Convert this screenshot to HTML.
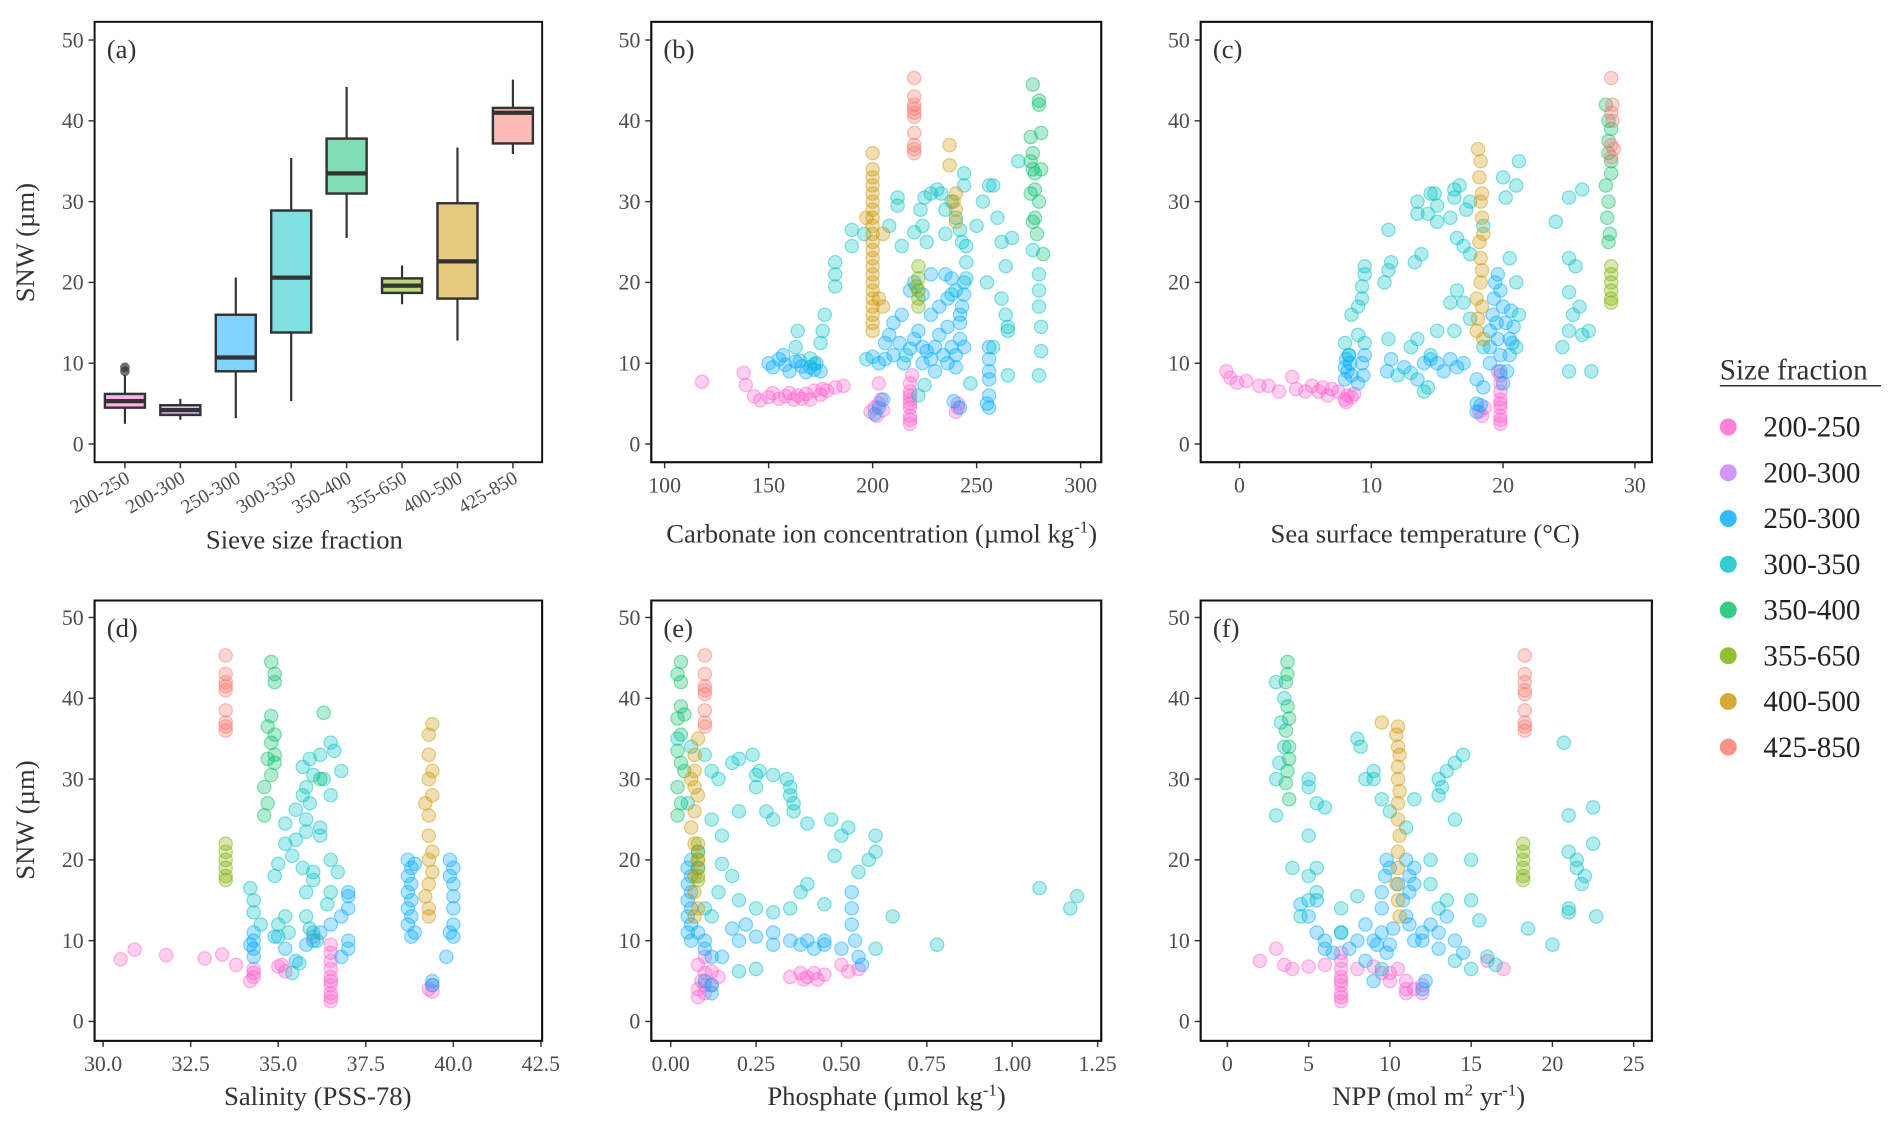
<!DOCTYPE html>
<html><head><meta charset="utf-8"><style>
html,body{margin:0;padding:0;background:#fff;}
svg, svg text{font-family:"Liberation Serif","Times New Roman","DejaVu Serif",serif;}
</style></head><body>
<svg id="fig" width="1892" height="1127" viewBox="0 0 1560 929" preserveAspectRatio="none" font-family="'Liberation Serif', 'Times New Roman', 'DejaVu Serif', serif" xmlns="http://www.w3.org/2000/svg"></svg>
<script>
// ---------- data ----------
const seriesNames = ["200-250","200-300","250-300","300-350","350-400","355-650","400-500","425-850"];
const seriesColors = ["#FF61CC","#C77CFF","#00A9FF","#00BFC4","#00BE67","#7CAE00","#CD9600","#F8766D"];
const yTicks = [0,10,20,30,40,50];
// panel a boxplot
const boxCats = ["200-250","200-300","250-300","300-350","350-400","355-650","400-500","425-850"];
const boxMin = [2.5,3.0,3.2,5.3,25.5,17.3,12.8,35.9];
const boxQ1 = [4.5,3.6,9.0,13.8,31.0,18.7,18.0,37.2];
const boxMed = [5.3,4.2,10.7,20.6,33.5,19.6,22.6,41.0];
const boxQ3 = [6.2,4.8,16.0,28.9,37.8,20.5,29.8,41.6];
const boxMax = [8.5,5.6,20.6,35.4,44.2,22.1,36.7,45.1];
const boxOutliers = [[0,9.0],[0,9.5]];
// panel b carbonate
const carbTicks = [100,150,200,250,300];
const carb_s1 = [[118,7.7],[138,8.8],[139,7.3],[143,5.9],[146,5.4],[150,5.8],[152,6.3],[155,5.6],[158,5.9],[160,6.3],[162,5.5],[164,6],[166,5.6],[168,6.2],[170,5.5],[172,6.6],[175,6.1],[178,6.6],[182,7],[186,7.2],[176,6.8],[199,4],[201,4.5],[203,5],[205,4.2],[202,3.5],[204,5.5],[203,7.5],[218,2.5],[218,3.5],[218,4.5],[218,5.5],[218,6.5],[218,7.5],[219,8.5],[218,3],[218,5],[218,6],[241,4.5],[241,5],[240,4]];
const carb_s3 = [[150,10],[152,9.5],[155,10.5],[158,9.8],[160,9],[163,10.2],[166,9.6],[168,8.9],[170,9.5],[173,10],[175,9],[172,9.2],[165,10.3],[157,11],[200,10.8],[203,10],[206,10.5],[210,11],[213,12.5],[215,10],[218,11.8],[220,13],[222,14],[224,12],[226,11.5],[228,10.5],[230,12],[232,13.5],[234,11],[236,14.5],[238,12],[240,11],[242,13],[244,12],[242,15],[243,17],[244,18.5],[244,20],[242,16],[240,19],[236,18],[232,17],[228,16],[224,18.5],[220,20],[218,19],[214,16],[210,15],[208,13.5],[206,12.5],[224,10],[230,9],[236,10],[240,9.5],[256,12],[256,10.5],[256,9],[256,8],[255,5],[256,6],[256,4.5],[201,3.7],[203,4.5],[205,5.5],[239,5.3],[242,4.5],[235,21],[238,20.5],[228,21]];
const carb_s4 = [[177,16],[176,14],[175,12.5],[182,19.5],[164,14],[163,12],[170,10.6],[172,9.9],[197,10.5],[182,22.5],[182,21],[190,24.5],[190,26.5],[196,26],[208,27],[212,30.5],[212,29.5],[214,24.5],[220,26.2],[223,29],[225,30.5],[228,31],[231,31.5],[233,31],[235,29],[238,30],[240,28],[243,25],[244,32],[244,33.5],[224,27],[226,25],[235,26],[238,18.5],[245,20.5],[245,22.5],[245,24.5],[250,27],[253,30],[256,32],[258,32],[260,28],[262,25],[264,22],[262,18],[264,16],[265,14.5],[265,14],[270,35],[277,24],[280,21],[280,19],[280,17],[281,14.5],[281,11.5],[280,8.5],[265,8.5],[247,7.5],[222,6],[225,7.3],[216,11],[242,26.5],[255,20],[258,12],[267,25.5]];
const carb_s5 = [[277,44.5],[280,42],[280,42.5],[277,36],[277,34],[278,33.5],[281,34],[276,31],[278,31.5],[280,30],[278,28],[277,27.5],[279,26],[282,23.5],[276,38],[281,38.5],[276,35]];
const carb_s6 = [[222,22],[222,20.5],[222,19],[222,18],[222,17],[221,19.5]];
const carb_s7 = [[200,36],[200,34],[200,33],[200,32],[200,31],[200,30],[200,29],[200,28],[200,27],[200,26],[200,25],[200,24],[200,23],[200,22],[200,21],[200,20],[200,19],[200,18],[200,17],[200,16],[200,15],[200,14],[197,28],[205,26],[237,37],[237,34.5],[240,31],[240,29],[240,27.5],[239,30],[203,18],[205,17]];
const carb_s8 = [[220,45.3],[220,43],[220,42],[220,41.5],[220,41],[220,40.5],[220,38.5],[220,37],[220,36.5],[220,36]];
// panel c SST
const sstTicks = [0,10,20,30];
const sst_s1 = [[-1,9],[-0.7,8.2],[-0.2,7.6],[0.5,7.8],[1.5,7.2],[2.2,7.2],[3,6.5],[4,8.3],[4.3,6.8],[5,6.5],[5.5,7.2],[6,6.5],[6.3,7],[6.7,6],[7,6.8],[7.5,6.5],[8,5.5],[8.2,6],[8.5,5.8],[8.7,6.2],[8.1,5.2],[18.2,4],[18.4,3.5],[18.6,4.5],[19.8,2.5],[19.8,3.5],[19.8,4.5],[19.8,5.5],[19.8,6.5],[19.8,7.5],[19.8,8.5],[19.8,3],[19.8,5],[19.6,9]];
const sst_s3 = [[8,8],[8.2,9],[8.4,10],[8.3,11],[8,9.5],[8.1,10.5],[8.5,8.5],[9,7.5],[9.3,10],[9.5,11],[9.4,8.5],[11.2,9],[11.5,10.5],[12.5,9.5],[13.5,8],[14,10],[14.5,10.5],[15,10],[15.5,9],[16,10.5],[16.5,9.5],[17,10],[18,8],[18.5,7],[19,10],[19,12],[19,14],[19.2,16],[19.3,18],[19.4,20],[19.6,21],[19.8,19],[20,17],[20.2,15],[20.5,13],[20.5,11],[20.3,9],[20.7,12.5],[20.8,14.5],[20.6,16.5],[19.6,13],[19.5,15],[19.8,11],[19.8,9],[20,7.5],[18,4],[18,5],[18.3,4.8]];
const sst_s4 = [[8,12.5],[8.3,11],[9,13.5],[9.5,12.5],[8.5,16],[9,17],[9.3,18],[9.3,19.5],[9.5,22],[9.5,21],[11,20],[11.3,21.5],[11.5,22.5],[11.3,26.5],[13.3,22.5],[13.8,23.5],[13.5,28.5],[13.5,30],[14.3,28.5],[14.5,31],[14.8,31],[15,29.5],[15,27.5],[16.3,31.5],[16.3,30.5],[16,28],[16.5,25.5],[17,24.5],[17.5,23.5],[17.2,29],[18.5,27],[20,33],[20.2,30.5],[21,32],[21.2,35],[21,20],[20.5,23],[16.5,19],[17,17.5],[16,17.5],[16.3,14],[15,14],[14.5,11],[13.5,13],[13,12],[11.3,13],[12,8.5],[13,8.8],[14,6.5],[14.3,7],[17.5,15.5],[18.5,12],[21,12],[21.2,16],[24.5,12],[25,18.8],[25,14],[25.3,16],[26,13.5],[26.5,14],[25.8,17],[25,23],[25.5,22],[24,27.5],[25,30.5],[26,31.5],[25,9],[26.7,9],[17.5,30],[16.7,32]];
const sst_s5 = [[27.8,42],[28,40],[28.2,39],[28,36],[28.2,35],[27.8,32],[28,30],[27.9,28],[28.1,26],[28,25],[28.2,33.5],[28,37.5]];
const sst_s6 = [[28.2,22],[28.2,21],[28.2,20],[28.2,19],[28.2,18],[28.2,17.5]];
const sst_s7 = [[18.1,36.5],[18.3,35],[18.2,33],[18.4,31],[18.3,30],[18.4,28],[18.5,26],[18.2,25],[18.3,23],[18.4,21.5],[18.3,20],[18,18],[18.4,17],[18.1,15.5],[18,14],[18.5,13]];
const sst_s8 = [[28.2,45.3],[28.3,42],[28.2,41],[28.3,40],[28.2,37],[28.4,36.5],[28.2,35.5]];
// panel d salinity
const salTicks = ["30.0","32.5","35.0","37.5","40.0","42.5"];
const sal_s1 = [[30.5,7.7],[30.9,8.9],[31.8,8.2],[32.9,7.8],[33.4,8.3],[33.8,7],[34.3,6],[34.3,5.5],[34.2,5],[34.3,6.5],[35.1,7],[35.2,6.2],[35,6.8],[36.5,2.5],[36.5,3.5],[36.5,4.5],[36.5,5.5],[36.5,6.5],[36.5,7.5],[36.5,8.5],[36.5,3],[36.5,5],[36.5,9.5],[39.3,4],[39.4,3.7],[39.4,4.5],[36,10.5]];
const sal_s3 = [[34.3,9],[34.3,10],[34.3,11],[34.3,8],[34.2,9.5],[34.9,10.5],[35.2,9],[35.8,9.5],[36,10],[36.2,11],[36.5,12],[36.8,13],[37,14],[37,15.5],[37,16],[37,10],[37,9],[36.8,8],[35.5,7.5],[38.7,20],[38.8,19],[38.7,18],[38.8,17],[38.7,16],[38.8,15],[38.7,14],[38.8,13],[38.7,12],[38.9,11],[38.8,10.5],[38.9,19.5],[39.9,20],[40,19],[39.9,18],[40,17],[40,15.5],[40,14],[40,12],[39.9,11],[40,10.5],[39.8,8],[39.4,5],[39.4,4.5]];
const sal_s4 = [[34.2,16.5],[34.3,15],[34.3,13.5],[34.5,12],[35.2,13],[35.3,11],[35,12],[35,10.5],[34.9,18],[35,19.5],[35.2,22],[35.5,22.5],[35.4,20.5],[35.8,23.5],[35.8,25],[35.9,27],[35.7,28],[35.8,29],[36,30.5],[35.7,31.5],[35.9,32.5],[36.2,33],[36.5,34.5],[36.6,33.5],[36.8,31],[36.5,28],[36.3,30],[36.2,24],[36.2,23],[35.5,26.2],[35.2,24.5],[36,18.5],[36,17.5],[35.7,19],[35.8,16],[36.5,16],[36.5,20],[36.7,18.5],[36.4,14.5],[35.8,13],[35.9,11.5],[36.1,10],[35.6,7.2],[35.4,6],[36,11]];
const sal_s5 = [[34.8,44.5],[34.9,43],[34.9,42],[34.8,37.8],[34.7,36.5],[34.9,35.5],[34.8,34.5],[34.9,33],[34.7,32.5],[34.9,32],[34.6,29],[34.7,27],[34.6,25.5],[36.3,38.2],[36.2,30],[34.8,30.5]];
const sal_s6 = [[33.5,22],[33.5,21],[33.5,20],[33.5,19],[33.5,18],[33.5,17.5]];
const sal_s7 = [[39.4,36.8],[39.3,35.5],[39.3,33],[39.4,31],[39.3,30],[39.4,28],[39.2,27],[39.3,25.5],[39.3,23],[39.4,21],[39.3,20],[39.4,18.5],[39.3,17],[39.2,15.5],[39.3,14],[39.3,13]];
const sal_s8 = [[33.5,45.3],[33.5,43],[33.5,42],[33.5,41.5],[33.5,41],[33.5,38.5],[33.5,37],[33.5,36.5],[33.5,36]];
// panel e phosphate
const phosTicks = ["0.00","0.25","0.50","0.75","1.00","1.25"];
const phos_s1 = [[0.08,3],[0.08,4],[0.09,5],[0.1,6],[0.08,7],[0.1,8],[0.12,6.2],[0.14,5.5],[0.1,3.5],[0.35,5.5],[0.38,6],[0.4,5.5],[0.42,6],[0.45,5.8],[0.43,5.2],[0.39,5.2],[0.5,7],[0.55,6.5],[0.52,6.2],[0.1,4.5],[0.12,4.5]];
const phos_s3 = [[0.06,10],[0.05,11],[0.06,12],[0.05,13],[0.06,14],[0.05,15],[0.06,16],[0.05,17],[0.06,18],[0.05,19],[0.06,20],[0.08,19],[0.08,11],[0.1,10],[0.1,9],[0.12,8],[0.12,3.5],[0.12,4.5],[0.1,5],[0.2,10],[0.25,10.5],[0.3,11],[0.35,10],[0.38,9.5],[0.4,10],[0.42,9],[0.45,10],[0.45,9.5],[0.5,9],[0.53,14],[0.53,16],[0.53,12],[0.54,10],[0.55,8],[0.56,7],[0.3,9.5],[0.22,12],[0.18,11.5],[0.08,21],[0.15,8]];
const phos_s4 = [[0.02,35],[0.06,34],[0.1,33],[0.12,31],[0.14,30],[0.18,32],[0.2,32.5],[0.24,33],[0.26,31],[0.25,30.5],[0.3,30.5],[0.35,29],[0.35,28],[0.36,27],[0.36,26],[0.34,30],[0.3,25],[0.28,26],[0.25,29],[0.4,24.5],[0.47,25],[0.5,23],[0.52,24],[0.6,23],[0.6,21],[0.58,20],[0.55,18.5],[0.48,20.5],[0.4,17],[0.38,16],[0.35,14],[0.3,13.5],[0.25,14],[0.2,15],[0.18,18],[0.15,19.5],[0.14,16],[0.12,13],[0.1,14],[0.15,23],[0.12,25],[0.05,27],[0.2,26],[0.65,13],[0.78,9.5],[0.45,14.5],[0.6,9],[1.08,16.5],[1.17,14],[1.19,15.5],[0.25,6.5],[0.2,6.2]];
const phos_s5 = [[0.03,44.5],[0.02,43],[0.03,42],[0.03,39],[0.04,38],[0.02,37.5],[0.03,35.5],[0.02,33.5],[0.03,32],[0.04,31],[0.02,29],[0.03,27],[0.02,25.5]];
const phos_s6 = [[0.08,22],[0.08,21],[0.08,20],[0.08,19],[0.08,18],[0.08,17.5]];
const phos_s7 = [[0.08,35],[0.07,33],[0.07,31],[0.07,29],[0.08,28],[0.07,26],[0.06,24],[0.07,22],[0.08,20],[0.07,18],[0.07,16],[0.08,14],[0.07,13],[0.06,30]];
const phos_s8 = [[0.1,45.3],[0.1,43],[0.1,41.5],[0.1,41],[0.1,40.5],[0.1,38.5],[0.1,37],[0.1,36.5]];
// panel f NPP
const nppTicks = [0,5,10,15,20,25];
const npp_s1 = [[2,7.5],[3,9],[3.5,7],[4,6.5],[5,6.8],[6,7],[7,2.5],[7,3.5],[7,4.5],[7,5.5],[7,6.5],[7,7.5],[7,8.5],[7,3],[7,5],[8,6.5],[9,6.8],[9.5,6],[10,5],[10.5,6.5],[11,5],[11,4],[11,3.5],[11.5,4],[12,4.5],[12,3.5],[16,7.5],[17,6.5],[10,6]];
const npp_s3 = [[4.5,14.5],[5,13],[5.5,11],[6,10],[6,9],[6.5,8.5],[5.5,15],[7,11],[7.5,9],[8,10],[8.5,12],[9,10],[9.2,9.5],[9.5,11],[9.8,8.5],[9.5,14],[9.5,16],[9.7,18],[9.8,20],[10,19],[10.5,17],[10.8,15],[11,13],[11.2,12],[11.5,10],[11,20],[11.2,18],[11.2,16],[11.5,17],[11.5,19],[12,11],[12,10],[12.5,12],[13,9],[13,11],[14,10],[14.5,8.5],[13.5,13],[12.2,5],[12,4],[9,5],[8.5,7.5],[10.2,11.5],[10,9.5]];
const npp_s4 = [[3,42],[3.5,40],[3.3,37],[3.5,34],[3.2,32],[3,30],[3,25.5],[5,30],[5,29],[5.5,27],[6,26.5],[5,23],[4,19],[5.5,19],[5,18],[5.5,16],[4.5,13],[5,15],[7,11],[7,14],[8,15.5],[8,35],[8.2,34],[9,31],[8.5,30],[9,30],[9.5,27.5],[10,26],[11,24],[11.5,27.5],[12.5,20],[12.5,17],[13,14],[13.5,15],[13,30],[13.5,31],[14,32],[14.5,33],[13,28],[13.2,29],[14,25],[15,20],[15,15],[15.5,12.5],[16,8],[15,6.5],[14,7.5],[16.5,7],[18.5,11.5],[20,9.5],[21,25.5],[21,21],[21.5,20],[21.5,19],[21.8,17],[22,18],[22.5,22],[21,13.5],[22.5,26.5],[22.7,13],[20.7,34.5],[21,14],[9.5,6.5]];
const npp_s5 = [[3.7,44.5],[3.7,43],[3.6,42],[3.7,39],[3.8,37.5],[3.6,36],[3.8,34],[3.8,32.5],[3.7,31],[3.6,29.5],[3.8,27.5]];
const npp_s6 = [[18.2,22],[18.2,21],[18.2,20],[18.2,19],[18.2,18],[18.2,17.5]];
const npp_s7 = [[10.5,36.5],[10.4,35.5],[10.5,34],[10.6,33],[10.5,31.5],[10.5,30],[10.6,28.5],[10.5,27],[10.5,25],[10.6,23],[10.5,21],[10.5,19],[10.4,17],[10.5,15],[10.6,13],[9.5,37]];
const npp_s8 = [[18.3,45.3],[18.3,43],[18.3,42],[18.3,41],[18.3,40.5],[18.3,38.5],[18.3,37],[18.3,36.5],[18.3,36]];

// ---------- drawing ----------
const NS = "http://www.w3.org/2000/svg";
const svg = document.getElementById("fig");
function mk(tag, attrs, parent) {
  const e = document.createElementNS(NS, tag);
  for (const k in attrs) e.setAttribute(k, attrs[k]);
  (parent || svg).appendChild(e);
  return e;
}
function linScale(d0, d1, r0, r1) { return v => r0 + (v - d0) * (r1 - r0) / (d1 - d0); }

function drawFrame(g, L, R, T, B, yScale, xTicks, xScale, label, name) {
  const bg = mk("rect", {x:L, y:T, width:R-L, height:B-T, fill:"#fff", stroke:"#111", "stroke-width":1.6}, g);
  
  
  const ax = mk("g", {}, g);
  
  
  yTicks.forEach(v => {
    const y = yScale(v);
    mk("line", {x1:L-5, x2:L, y1:y, y2:y, stroke:"#333", "stroke-width":1.2}, ax);
    const t = mk("text", {x:L-9, y:y+6, "text-anchor":"end", "font-size":18, fill:"#4d4d4d"}, ax);
    t.textContent = v;
    
    
  });
  if (xTicks) {
    const xa = mk("g", {}, g);
    
    
    xTicks.forEach(v => {
      const x = xScale(parseFloat(v));
      mk("line", {x1:x, x2:x, y1:B, y2:B+5, stroke:"#333", "stroke-width":1.2}, xa);
      const t = mk("text", {x:x, y:B+25, "text-anchor":"middle", "font-size":18, fill:"#4d4d4d"}, xa);
      t.textContent = v;
      
      
    });
  }
  const pl = mk("text", {x:L+10, y:T+30, "font-size":22, fill:"#333"}, g);
  pl.textContent = label;
  
  
}

function drawScatter(g, seriesList, xScale, yScale) {
  seriesList.forEach((pts, si) => {
    if (!pts) return;
    const sg = mk("g", {}, g);
    
    
    pts.forEach(p => {
      const c = mk("circle", {cx:xScale(p[0]), cy:yScale(p[1]), r:5.5, fill:seriesColors[si], "fill-opacity":0.3, stroke:seriesColors[si], "stroke-opacity":0.45, "stroke-width":1}, sg);
      
      
    });
  });
}

function xTitle(x, y, parts, name) {
  const t = mk("text", {x:x, y:y, "text-anchor":"middle", "font-size":22, fill:"#333"});
  parts.forEach(p => {
    const s = mk("tspan", p[1] ? {"font-size":14, dy:-8} : (p[2] ? {dy:8} : {}), t);
    s.textContent = p[0];
  });
  
  
}

const row1Y = linScale(0, 50, 366, 33);
const row2Y = linScale(0, 50, 842, 509);

// Panel a
(function(){
  const g = mk("g", {});
  
  
  drawFrame(g, 78, 447, 18, 381, row1Y, null, null, "(a)", "panel-a");
  const xCat = i => 103 + i * 45.7;
  const bw = 33;
  boxCats.forEach((c, i) => {
    const x = xCat(i);
    const bg = mk("g", {}, g);
    
    
    mk("line", {x1:x, x2:x, y1:row1Y(boxMin[i]), y2:row1Y(boxQ1[i]), stroke:"#333", "stroke-width":1.8}, bg);
    mk("line", {x1:x, x2:x, y1:row1Y(boxQ3[i]), y2:row1Y(boxMax[i]), stroke:"#333", "stroke-width":1.8}, bg);
    mk("rect", {x:x-bw/2, y:row1Y(boxQ3[i]), width:bw, height:row1Y(boxQ1[i])-row1Y(boxQ3[i]), fill:seriesColors[i], "fill-opacity":0.5, stroke:"#333", "stroke-width":2}, bg);
    mk("line", {x1:x-bw/2, x2:x+bw/2, y1:row1Y(boxMed[i]), y2:row1Y(boxMed[i]), stroke:"#333", "stroke-width":3.5}, bg);
    mk("line", {x1:x, x2:x, y1:381, y2:386, stroke:"#333", "stroke-width":1.2}, g);
    const t = mk("text", {x:x+5, y:397, "text-anchor":"end", "font-size":16, fill:"#4d4d4d", transform:`rotate(-30 ${x+5} 397)`}, g);
    t.textContent = c;
    
    
  });
  boxOutliers.forEach(o => {
    const c = mk("circle", {cx:xCat(o[0]), cy:row1Y(o[1]), r:4, fill:"#333", "fill-opacity":0.7}, g);
    
    
  });
})();

const panels = [
  {id:"b", L:537, R:908, row:1, ticks:carbTicks, sc:linScale(100,300,548,891), data:[carb_s1,null,carb_s3,carb_s4,carb_s5,carb_s6,carb_s7,carb_s8]},
  {id:"c", L:990, R:1362, row:1, ticks:sstTicks, sc:linScale(0,30,1022,1348), data:[sst_s1,null,sst_s3,sst_s4,sst_s5,sst_s6,sst_s7,sst_s8]},
  {id:"d", L:78, R:447, row:2, ticks:salTicks, sc:linScale(30,42.5,85,446), data:[sal_s1,null,sal_s3,sal_s4,sal_s5,sal_s6,sal_s7,sal_s8]},
  {id:"e", L:537, R:908, row:2, ticks:phosTicks, sc:linScale(0,1.25,553,905), data:[phos_s1,null,phos_s3,phos_s4,phos_s5,phos_s6,phos_s7,phos_s8]},
  {id:"f", L:990, R:1362, row:2, ticks:nppTicks, sc:linScale(0,25,1012,1347), data:[npp_s1,null,npp_s3,npp_s4,npp_s5,npp_s6,npp_s7,npp_s8]}
];
panels.forEach(p => {
  const g = mk("g", {});
  
  
  const T = p.row === 1 ? 18 : 495, B = p.row === 1 ? 381 : 858;
  const ys = p.row === 1 ? row1Y : row2Y;
  drawFrame(g, p.L, p.R, T, B, ys, p.ticks, p.sc, "(" + p.id + ")", "panel-" + p.id);
  const clipId = "clip-" + p.id;
  const cp = mk("clipPath", {id:clipId}, g);
  mk("rect", {x:p.L, y:T, width:p.R-p.L, height:B-T}, cp);
  const pg = mk("g", {"clip-path":`url(#${clipId})`}, g);
  drawScatter(pg, p.data, p.sc, ys);
  mk("rect", {x:p.L, y:T, width:p.R-p.L, height:B-T, fill:"none", stroke:"#111", "stroke-width":1.6}, g);
});

// axis titles
[[28,200],[28,676]].forEach(([x,y]) => {
  const t = mk("text", {x:x, y:y, "text-anchor":"middle", "font-size":22, fill:"#333", transform:`rotate(-90 ${x} ${y})`});
  t.textContent = "SNW (µm)";
  
  
});
xTitle(251, 452, [["Sieve size fraction"]], "x-axis-title-a");
xTitle(727, 447, [["Carbonate ion concentration (µmol kg"],["-1",true],[")",false,true]], "x-axis-title-b");
xTitle(1175, 447, [["Sea surface temperature (°C)"]], "x-axis-title-c");
xTitle(262, 911, [["Salinity (PSS-78)"]], "x-axis-title-d");
xTitle(731, 911, [["Phosphate (µmol kg"],["-1",true],[")",false,true]], "x-axis-title-e");
xTitle(1178, 911, [["NPP (mol m"],["2",true],[" yr",false,true],["-1",true],[")",false,true]], "x-axis-title-f");

// legend
(function(){
  const g = mk("g", {});
  
  
  const t = mk("text", {x:1418, y:313, "font-size":24, fill:"#333"}, g);
  t.textContent = "Size fraction";
  
  
  mk("line", {x1:1418, x2:1551, y1:318, y2:318, stroke:"#333", "stroke-width":1.2}, g);
  seriesNames.forEach((n, i) => {
    const eg = mk("g", {}, g);
    
    
    const y = 352 + i * 37.7;
    mk("circle", {cx:1425, cy:y, r:7, fill:seriesColors[i], "fill-opacity":0.8}, eg);
    const tt = mk("text", {x:1454, y:y+8, "font-size":24, fill:"#222"}, eg);
    tt.textContent = n;
  });
})();
</script>
</body></html>
